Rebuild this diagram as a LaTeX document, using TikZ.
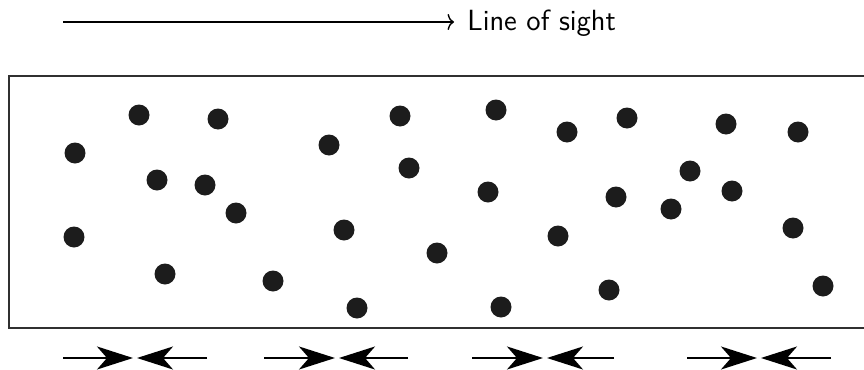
\documentclass[tikz,border=0pt]{standalone}
\usetikzlibrary{arrows.meta}
\definecolor{inkdark}{HTML}{1C1C1C}
\definecolor{framegray}{HTML}{303030}
\begin{document}
\begin{tikzpicture}[x=0.5pt,y=-0.5pt,
  dot/.style={circle,fill=inkdark,inner sep=0pt,minimum size=10.5pt},
  framebox/.style={draw=framegray,line width=1pt},
  sight/.style={line width=0.7pt,-{To[length=3.2pt,width=8pt]}},
  pusharrow/.style={line width=1pt,-{Stealth[length=18pt,width=11.5pt,inset=5pt]}},
  lbl/.style={font=\sffamily\fontsize{14.6}{17}\selectfont,inner sep=0pt,anchor=base west}]
\useasboundingbox (0,0) rectangle (864,370);
% line of sight
\coordinate (s0) at (63,22);
\coordinate (s1) at (454,22);
\draw[sight] (s0) -- (s1);
\node[lbl] (los) at (467,30) {Line of sight};
% frame (right side outside the picture)
\coordinate (f1) at (864,75.5);
\coordinate (f2) at (8.5,75.5);
\coordinate (f3) at (8.5,327.5);
\coordinate (f4) at (864,327.5);
\draw[framebox] (f1) -- (f2) -- (f3) -- (f4);
% dots
\foreach \n/\x/\y in {1/75/153,2/139/115,3/218/119,4/157/180,5/205/185,6/236/213,7/74/237,8/165/274,9/273/281,
  10/329/145,11/400/116,12/409/168,13/344/230,14/437/253,15/357/308,16/496/110,17/488/192,18/501/307,
  19/567/132,20/627/118,21/558/236,22/616/197,23/609/290,24/690/171,25/726/124,26/732/191,27/671/209,
  28/798/132,29/793/228,30/823/286}
  {\node[dot] (d\n) at (\x,\y) {};}
% compression arrows
\foreach \g/\a/\b/\c/\d in {1/63/133/137/207,2/264/335/339/408,3/472/543/547/614,4/687/757/761/831}{
  \coordinate (l\g) at (\a,358);
  \coordinate (tl\g) at (\b,358);
  \coordinate (tr\g) at (\c,358);
  \coordinate (r\g) at (\d,358);
  \draw[pusharrow] (l\g) -- (tl\g);
  \draw[pusharrow] (r\g) -- (tr\g);
}
\end{tikzpicture}
\end{document}
